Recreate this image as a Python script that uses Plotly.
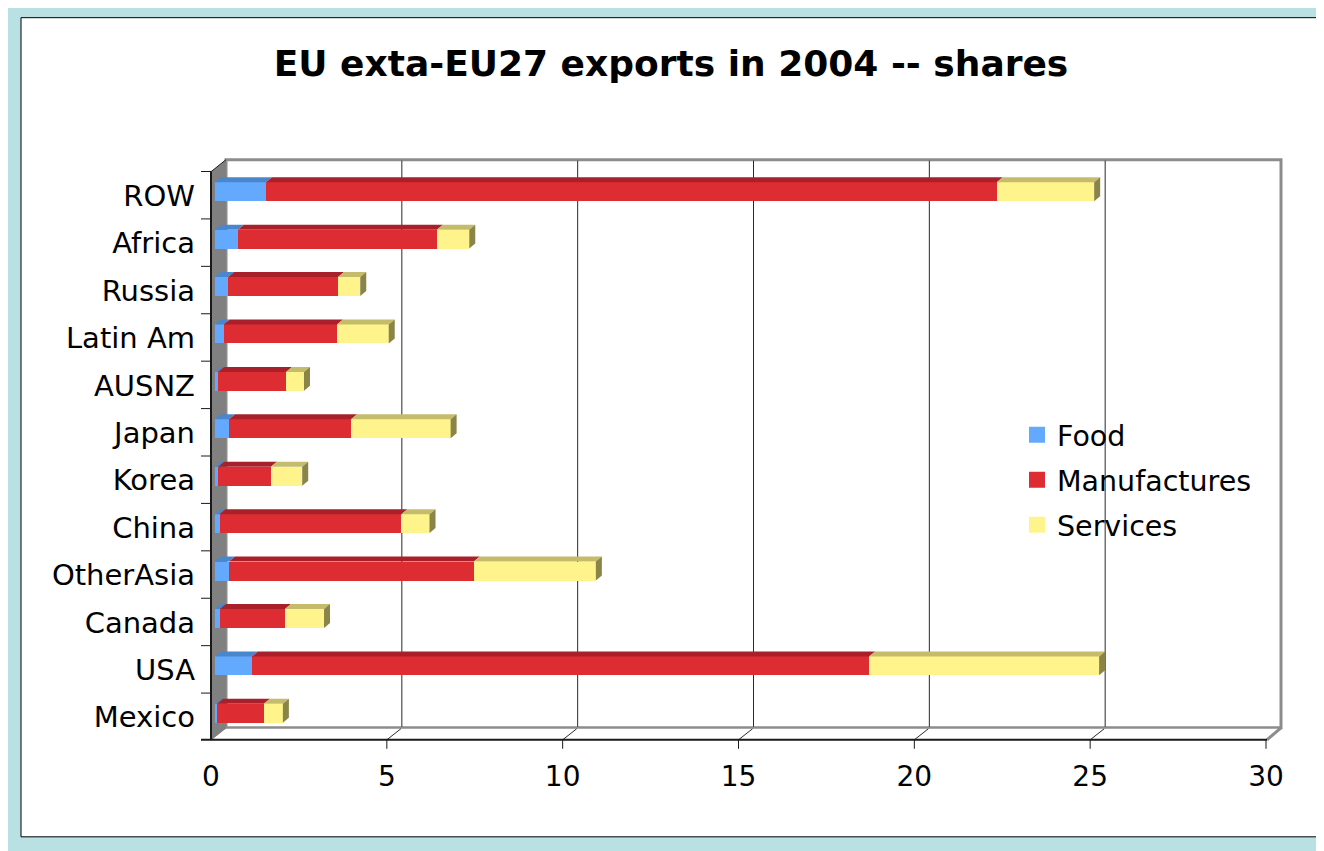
import plotly.graph_objects as go

# ---------------- data ----------------
regions = ["Mexico", "USA", "Canada", "OtherAsia", "China", "Korea",
           "Japan", "AUSNZ", "Latin Am", "Russia", "Africa", "ROW"]
food = [0.06, 1.05, 0.14, 0.40, 0.13, 0.09, 0.40, 0.09, 0.25, 0.37, 0.65, 1.45]
manufactures = [1.33, 17.55, 1.85, 6.96, 5.17, 1.50, 3.47, 1.93, 3.22, 3.13, 5.66, 20.78]
services = [0.54, 6.54, 1.11, 3.47, 0.80, 0.89, 2.83, 0.51, 1.47, 0.63, 0.92, 2.77]
series_names = ["Food", "Manufactures", "Services"]
x_ticks = [0, 5, 10, 15, 20, 25, 30]
title_text = "EU exta-EU27 exports in 2004 -- shares"

# ---------------- styles ----------------
front_cols = ["#63AAFF", "#DE2C33", "#FFF48C"]
top_cols = ["#4A86CC", "#A8202A", "#C4BC6A"]
side_col = "#8A8448"
FONT = "DejaVu Sans"
OFF = 8                      # page body margin
W, H = 1324 - OFF, 851 - OFF
# plot area in screen pixels
SL, SR, ST, SB = 215, 1270, 168.3, 737.2
L, R, T, B = SL - OFF, SR - OFF, ST - OFF, SB - OFF


def px(sx):
    return (sx - SL) / (SR - SL)


def py(sy):
    return (SB - sy) / (SB - ST)


ypos = list(range(len(regions)))
bar_w = 0.40
ddx = 6.0 * 30 / (SR - SL)           # bar depth offset in data units (x)
ddy = 5.0 * 12 / (SB - ST)           # bar depth offset in data units (y)

fig = go.Figure()
series = [food, manufactures, services]
for k, (name, vals, col) in enumerate(zip(series_names, series, front_cols)):
    fig.add_trace(go.Bar(
        y=ypos, x=vals, orientation="h", name=name, width=bar_w,
        marker=dict(color=col, line=dict(width=0)), showlegend=False,
        legendgroup=name,
    ))
    fig.add_trace(go.Scatter(
        x=[None], y=[None], mode="markers", name=name, legendgroup=name,
        legendrank=k + 1,
        marker=dict(symbol="square", size=17, color=col), showlegend=True,
    ))

shapes = []
# white panel with black border over teal frame
shapes.append(dict(type="rect", xref="paper", yref="paper", x0=px(21), x1=px(1318),
                   y0=py(837), y1=py(18), fillcolor="white",
                   line=dict(color="black", width=1), layer="below"))
# back wall
shapes.append(dict(type="rect", xref="paper", yref="paper", x0=px(226), x1=px(1281),
                   y0=py(728), y1=py(160), fillcolor="white",
                   line=dict(color="#8C8C8C", width=3), layer="below"))


def ppath(pts):
    return "M " + " L ".join(f"{px(a)},{py(b)}" for a, b in pts) + " Z"


# side wall (left)
shapes.append(dict(type="path", xref="paper", yref="paper",
                   path=ppath([(211, 172), (226, 160), (226, 729), (211, 741)]),
                   fillcolor="#808080", line=dict(width=0), layer="below"))
# floor
shapes.append(dict(type="path", xref="paper", yref="paper",
                   path=ppath([(226, 729), (1281, 729), (1267, 740), (212, 740)]),
                   fillcolor="white", line=dict(width=0), layer="below"))
shapes.append(dict(type="line", xref="paper", yref="paper", x0=px(1281), y0=py(728),
                   x1=px(1267), y1=py(740), line=dict(color="#8C8C8C", width=3), layer="below"))
# gridlines on back wall and floor ticks
for v in x_ticks[1:-1]:
    shapes.append(dict(type="line", xref="x", yref="paper", xsizemode="pixel", xanchor=v,
                       x0=11, x1=11, y0=py(727), y1=py(161),
                       line=dict(color="#2A2A2A", width=1), layer="below"))
for v in x_ticks[1:-1]:
    shapes.append(dict(type="line", xref="x", yref="paper", xsizemode="pixel", xanchor=v,
                       x0=-4, x1=10, y0=py(740), y1=py(729),
                       line=dict(color="#2A2A2A", width=1), layer="below"))
# front axis & ticks
shapes.append(dict(type="line", xref="paper", yref="paper", x0=px(201), x1=px(1267),
                   y0=py(740), y1=py(740), line=dict(color="#1A1A1A", width=2)))
for v in x_ticks:
    shapes.append(dict(type="line", xref="x", yref="paper", xsizemode="pixel", xanchor=v,
                       x0=-4, x1=-4, y0=py(740), y1=py(749),
                       line=dict(color="#1A1A1A", width=1)))
# left axis, top diagonal and category ticks
shapes.append(dict(type="line", xref="paper", yref="paper", x0=px(211), x1=px(211),
                   y0=py(172), y1=py(740), line=dict(color="#1A1A1A", width=2)))
shapes.append(dict(type="line", xref="paper", yref="paper", x0=px(211), x1=px(226),
                   y0=py(172), y1=py(160), line=dict(color="#1A1A1A", width=1)))
for k in range(len(regions) + 1):
    shapes.append(dict(type="line", xref="paper", yref="y", ysizemode="pixel",
                       yanchor=k - 0.5, y0=-3.5, y1=-3.5, x0=px(201), x1=px(211),
                       line=dict(color="#1A1A1A", width=1)))

# 3D faces of bar segments
h = bar_w / 2
for i in ypos:
    start = 0.0
    for s, vals in enumerate(series):
        a, b = start, start + vals[i]
        start = b
        top = [(a, i + h), (a + ddx, i + h + ddy), (b + ddx, i + h + ddy), (b, i + h)]
        shapes.append(dict(type="path", xref="x", yref="y",
                           path="M " + " L ".join(f"{p},{q}" for p, q in top) + " Z",
                           fillcolor=top_cols[s], line=dict(width=0), layer="above"))
    side = [(start, i - h), (start, i + h), (start + ddx, i + h + ddy), (start + ddx, i - h + ddy)]
    shapes.append(dict(type="path", xref="x", yref="y",
                       path="M " + " L ".join(f"{p},{q}" for p, q in side) + " Z",
                       fillcolor=side_col, line=dict(width=0), layer="above"))

fig.update_layout(
    width=W, height=H,
    paper_bgcolor="#B9E0E2", plot_bgcolor="rgba(0,0,0,0)",
    margin=dict(l=L, r=W - R, t=T, b=H - B),
    barmode="stack", bargap=0.6,
    font=dict(family=FONT, size=28, color="black"),
    title=dict(text=f"<b>{title_text}</b>", font=dict(family=FONT, size=36, color="black"),
               xref="container", yref="container", x=(671 - OFF) / W, xanchor="center",
               y=1 - (63 - OFF) / H, yanchor="middle"),
    xaxis=dict(range=[0, 30], tickvals=x_ticks, showgrid=False, zeroline=False,
               showline=False, ticks="", ticklabelshift=-4, ticklabelstandoff=20,
               tickfont=dict(family=FONT, size=28)),
    yaxis=dict(range=[-0.5, 11.5], tickvals=ypos, ticktext=regions, showgrid=False,
               zeroline=False, showline=False, ticks="", ticklabelstandoff=19,
               ticklabelshift=4, tickfont=dict(family=FONT, size=29)),
    legend=dict(x=px(1017), xanchor="left", y=py(410), yanchor="top",
                bgcolor="rgba(0,0,0,0)", font=dict(family=FONT, size=28.5),
                itemsizing="trace", traceorder="grouped", tracegroupgap=5),
    shapes=shapes,
)

fig.write_html("out.html")
